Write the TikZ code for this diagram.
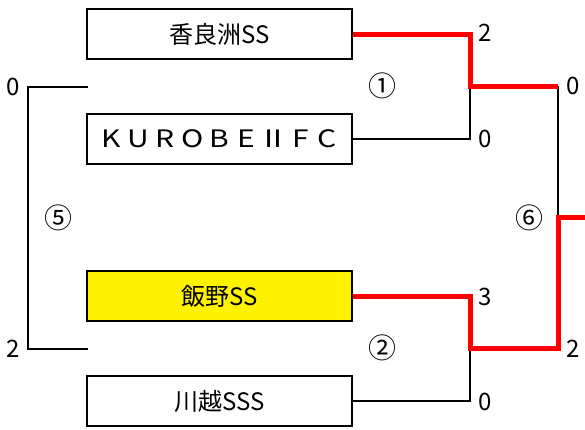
\documentclass[tikz,border=0pt]{standalone}
\usepackage{fontspec}
\setmainfont{Noto Sans CJK JP}
\newcommand{\wch}[1]{\makebox[27pt]{\scalebox{1.25}[1]{#1}}}
\begin{document}
\begin{tikzpicture}[x=1pt,y=-1pt,
		font=\fontsize{24}{28}\selectfont,
		team/.style={draw,line width=2.5pt,minimum width=265pt,minimum height=50pt,inner sep=0pt},
		win/.style={red,line width=5pt},
		lose/.style={black,line width=2pt},
		score/.style={inner sep=0pt},
		game/.style={inner sep=0pt,font=\fontsize{28}{30}\selectfont}]
		\useasboundingbox (0,0) rectangle (585,429);

		% Mannschaften
		\node (Kar) at (219.5,34) [team] {香良洲SS};
		\node (Kur) at (219.5,139) [team] {\wch{K}\wch{U}\wch{R}\wch{O}\wch{B}\wch{E}\wch{Ⅱ}\wch{F}\wch{C}};
		\node (Iiy) at (219.5,296) [team,fill=yellow] {飯野SS};
		\node (Kaw) at (219.5,401) [team] {川越SSS};

		% Punkte
		\coordinate (P1) at (470,86);
		\coordinate (P2) at (470,348);
		\coordinate (P6) at (558,217);
		\coordinate (L5o) at (88,87);
		\coordinate (L5u) at (88,349);
		\coordinate (Aus) at (585,217);

		% Linien
		\draw[lose] (Kur.east) -| (P1);
		\draw[lose] (Kaw.east) -| (P2);
		\draw[lose] (558,86) -- (P6);
		\draw[lose] (L5o) -- (28,87) -- (28,349) -- (L5u);
		\draw[win] (Kar.east) -| (P1) -- (558,86);
		\draw[win] (Iiy.east) -| (P2) -- (558,348) -- (P6) -- (Aus);

		% Spiele
		\node (S1) at (382,86) [game] {①};
		\node (S2) at (382,348) [game] {②};
		\node (S5) at (58,218) [game] {⑤};
		\node (S6) at (529,218) [game] {⑥};

		% Ergebnisse
		\node (E1a) at (485,33) [score] {2};
		\node (E1b) at (485,139) [score] {0};
		\node (E2a) at (485,297) [score] {3};
		\node (E2b) at (485,402) [score] {0};
		\node (E6a) at (573,86) [score] {0};
		\node (E6b) at (573,349) [score] {2};
		\node (E5a) at (13,87) [score] {0};
		\node (E5b) at (13,349) [score] {2};
	\end{tikzpicture}
\end{document}
